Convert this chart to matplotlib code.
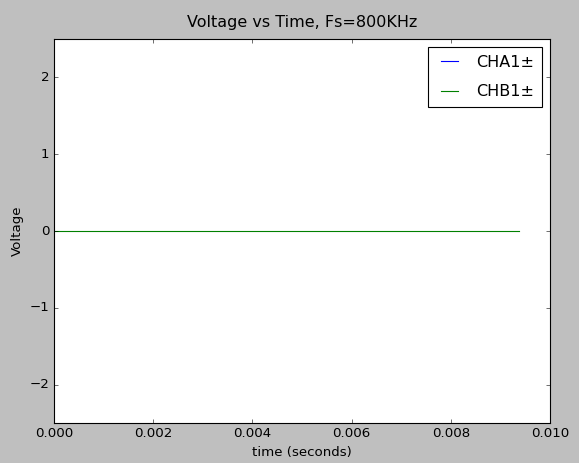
import matplotlib
matplotlib.use("Agg")
import matplotlib.pyplot as plt

# sampled record (flat, both channels at 0 V)
time_s = [0.0, 0.00937]
cha1 = [0.0, 0.0]
chb1 = [0.0, 0.0]

plt.style.use("classic")

fig = plt.figure(figsize=(579 / 80, 463 / 80), dpi=80)
ax = fig.add_axes([54 / 579, 1 - 423 / 463, (550 - 54) / 579, (423 - 39) / 463])

# CHB1 is drawn last and hides CHA1 underneath
ax.plot(time_s, cha1, color="blue", lw=0.8, label="CHA1\u00b1")
ax.plot(time_s, chb1, color="green", lw=1.0, label="CHB1\u00b1")

ax.set_xlim(0, 0.010)
ax.set_ylim(-2.5, 2.5)
ax.set_xticks([0.000, 0.002, 0.004, 0.006, 0.008, 0.010])
ax.set_yticks([-2, -1, 0, 1, 2])

ax.set_title("Voltage vs Time, Fs=800KHz", pad=11)
ax.set_xlabel("time (seconds)")
ax.set_ylabel("Voltage")
leg = ax.legend(loc="upper right", labelspacing=0.9, handlelength=1.7,
                borderpad=0.5)
for h in leg.get_lines():
    h.set_linewidth(1.0)

fig.savefig("out.png", dpi=80, facecolor=fig.get_facecolor())
